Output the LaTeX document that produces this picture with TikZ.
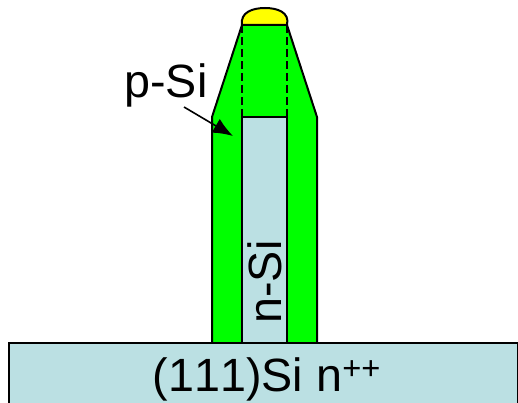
\documentclass[tikz,border=0pt]{standalone}
\usepackage{fontspec}
\setmainfont[Kerning=Off]{Liberation Sans}
\usetikzlibrary{arrows.meta}
\definecolor{siblue}{RGB}{187,224,227}
\definecolor{shellgreen}{RGB}{0,255,0}
\definecolor{capyellow}{RGB}{255,255,0}
\tikzset{
  outline/.style={draw=black,line width=1.5pt,line join=miter},
  bigtext/.style={font=\fontsize{35pt}{35pt}\selectfont,inner sep=0pt},
}
\begin{document}
\begin{tikzpicture}[x=0.75pt,y=-0.75pt]
        \useasboundingbox (0,0) rectangle (518,403);
        \fill[shellgreen,outline] (212,343) -- (212,117) -- (242,25) -- (287,25) -- (317,117) -- (317,343) -- cycle;
        \fill[capyellow,outline] (242,25) .. controls (240,12) and (253,8) .. (265,8) .. controls (277,8) and (290,12) .. (287,25) -- cycle;
        \draw[line width=1.5pt,dash pattern=on 6pt off 3pt] (242,25) -- (242,117);
        \draw[line width=1.5pt,dash pattern=on 6pt off 3pt] (287,25) -- (287,117);
        \fill[siblue,outline] (242,343) rectangle (287,117);
        \fill[siblue,outline] (9,403) -- (9,343) -- (518,343) -- (518,403);
        \node[bigtext] (psi) at (166,85) {p-Si};
        \node[bigtext,rotate=90] (nsi) at (265,282) {n-Si};
        \node[bigtext] (sub) at (267,379) {(111)Si n\textsuperscript{++}};
        \coordinate (tip) at (233,136);
        \coordinate (tail) at (184,107);
        \draw[-{Latex[length=15pt,width=12pt]},line width=1.2pt] (tail) -- (tip);
    \end{tikzpicture}
\end{document}
